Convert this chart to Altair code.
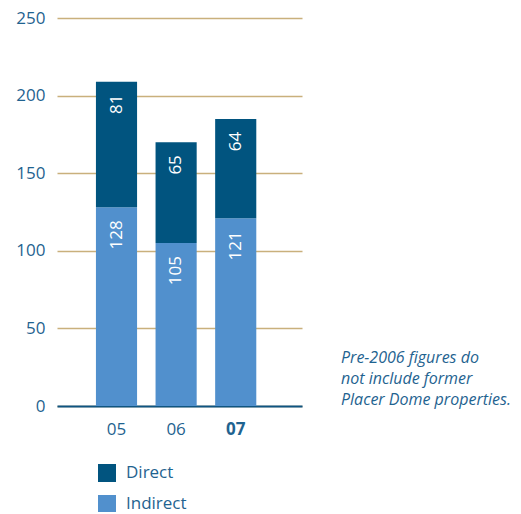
import altair as alt
import pandas as pd

years = ["05", "06", "07"]
direct = [81, 65, 64]
indirect = [128, 105, 121]
series = ["Direct", "Indirect"]
note_lines = ["Pre-2006 figures do", "not include former", "Placer Dome properties."]

rows = []
for i, y in enumerate(years):
    rows.append({"year": y, "type": "Indirect", "value": indirect[i], "ord": 0})
    rows.append({"year": y, "type": "Direct", "value": direct[i], "ord": 1})
df = pd.DataFrame(rows)

FONT = "Open Sans"
LABEL = "#1f6390"

base = alt.Chart(df).transform_stack(
    stack="value", groupby=["year"], as_=["v0", "v1"],
    sort=[alt.SortField("ord", order="ascending")]
)

xenc = alt.X(
    "year:N", title=None, sort=years,
    scale=alt.Scale(paddingInner=0.31, paddingOuter=0.71, align=0.46),
    axis=alt.Axis(
        labelAngle=0, ticks=False, domain=True, domainColor="#0f5582",
        domainWidth=2, labelFont=FONT, labelFontSize=17, labelColor=LABEL,
        labelPadding=15, grid=False,
        labelFontWeight=alt.expr("datum.value == '07' ? 'bold' : 'normal'"),
    ),
)

bars = base.mark_bar().encode(
    x=xenc,
    y=alt.Y(
        "v0:Q", title=None,
        scale=alt.Scale(domain=[0, 250], nice=False),
        axis=alt.Axis(
            values=[0, 50, 100, 150, 200, 250], domain=False, ticks=False,
            labelFont=FONT, labelFontSize=17, labelColor=LABEL, labelPadding=12,
            gridColor="#c9b07c", gridWidth=1.5,
        ),
    ),
    y2="v1:Q",
    color=alt.Color(
        "type:N", title=None,
        scale=alt.Scale(domain=series, range=["#01547f", "#5190cd"]),
        legend=alt.Legend(
            orient="none", legendX=41, legendY=446, symbolType="square",
            symbolSize=324, symbolStrokeWidth=0, labelFont=FONT, labelFontSize=17,
            labelColor=LABEL, labelOffset=10, rowPadding=13, padding=0,
            symbolOpacity=1,
        ),
    ),
)

labels = base.mark_text(
    angle=270, align="right", baseline="middle", dx=-13, color="white",
    font=FONT, fontSize=17,
).encode(
    x=alt.X("year:N", sort=years),
    y=alt.Y("v1:Q"),
    text="value:Q",
)

note = alt.Chart(pd.DataFrame({"t": [0]})).mark_text(
    text=note_lines, align="left", baseline="alphabetic", fontStyle="italic",
    font=FONT, fontSize=16, color=LABEL, lineHeight=21,
).encode(x=alt.value(284), y=alt.value(345))

chart = alt.layer(bars, labels, note).properties(
    width=245, height=388,
    autosize=alt.AutoSizeParams(type="none"),
    padding={"left": 49, "top": 10, "right": 210, "bottom": 106},
).configure_view(stroke=None)

chart.save("out.html", embed_options={"renderer": "svg", "actions": False})
